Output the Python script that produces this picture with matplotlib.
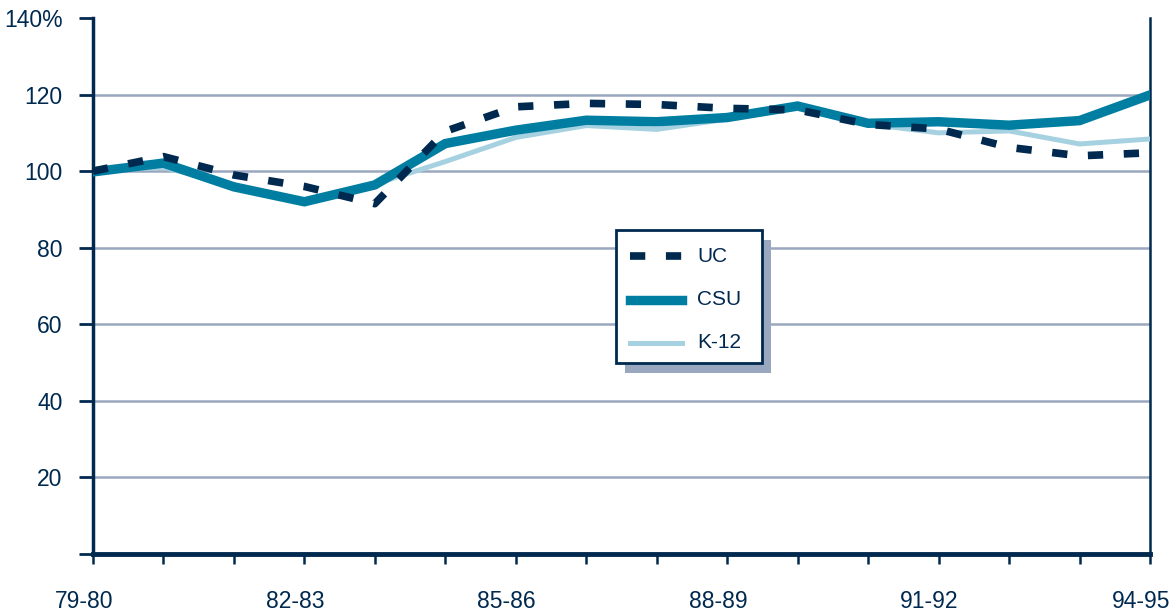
import matplotlib.pyplot as plt
from matplotlib.patches import Rectangle
from matplotlib.lines import Line2D
from matplotlib.transforms import ScaledTranslation

years = ["79-80", "80-81", "81-82", "82-83", "83-84", "84-85", "85-86", "86-87",
         "87-88", "88-89", "89-90", "90-91", "91-92", "92-93", "93-94", "94-95"]
uc = [100.0, 103.8, 99.0, 96.0, 91.5, 110.4, 116.8, 117.7,
      117.4, 116.4, 116.0, 112.2, 111.0, 106.2, 104.0, 104.8]
csu = [99.8, 102.1, 95.9, 92.0, 96.4, 107.2, 110.7, 113.3,
       112.9, 114.0, 117.0, 112.5, 112.9, 112.0, 113.2, 119.9]
k12 = [100.0, 101.0, 96.4, 92.0, 96.6, 102.5, 108.8, 111.9,
       110.9, 113.6, 117.0, 112.3, 110.0, 110.5, 107.1, 108.4]

y_ticks = [0, 20, 40, 60, 80, 100, 120, 140]
y_labels = ["", "20", "40", "60", "80", "100", "120", "140%"]

NAVY = "#00294f"
CSU_C = "#007ea1"
K12_C = "#a6d1e1"
GRID = "#9aa8bf"
UC_DASH = (2.0, 2.7)

plt.rcParams["font.family"] = ["Liberation Sans", "DejaVu Sans"]

fig = plt.figure(figsize=(11.75, 6.14), dpi=100)
ax = fig.add_axes([0.0791, 0.0977, 0.8996, 0.873])

x = list(range(len(years)))
ax.plot(x, k12, color=K12_C, lw=3.6, solid_joinstyle="miter", zorder=3)
ax.plot(x, csu, color=CSU_C, lw=6.8, solid_joinstyle="miter", zorder=4)
ax.plot(x, uc, color=NAVY, lw=5.5, dashes=UC_DASH, dash_capstyle="butt", zorder=5)

ax.set_xlim(0, len(years) - 1)
ax.set_ylim(0, 140)

for v in y_ticks[1:-1]:
    ax.axhline(v, color=GRID, lw=1.8, zorder=1)

ax.set_yticks(y_ticks)
ax.set_yticklabels(y_labels)
ax.set_xticks(x)
ax.set_xticklabels([lab if i % 3 == 0 else "" for i, lab in enumerate(years)])

ax.tick_params(axis="y", direction="out", length=10, width=2, color=NAVY,
               labelcolor=NAVY, labelsize=16.5, pad=12)
ax.tick_params(axis="x", direction="out", length=7, width=1.8, color=NAVY,
               labelcolor=NAVY, labelsize=16.5, pad=19)

# year labels sit a little left of their ticks
shift = ScaledTranslation(-9 / 100, 0, fig.dpi_scale_trans)
for lab in ax.get_xticklabels():
    lab.set_transform(lab.get_transform() + shift)

ax.spines["top"].set_visible(False)
ax.spines["left"].set_color(NAVY)
ax.spines["left"].set_linewidth(2.5)
ax.spines["right"].set_color(NAVY)
ax.spines["right"].set_linewidth(1.8)
ax.spines["bottom"].set_color(NAVY)
ax.spines["bottom"].set_linewidth(3.5)

# legend box with drop shadow
bx, by, bw, bh = 616, 230, 146, 133
shadow = Rectangle((bx + 9, 614 - by - bh - 10), bw, bh, transform=None,
                   facecolor=GRID, edgecolor="none", zorder=6)
box = Rectangle((bx, 614 - by - bh), bw, bh, transform=None,
                facecolor="white", edgecolor=NAVY, lw=2, zorder=7)
fig.patches.extend([shadow, box])

entries = [("UC", NAVY, 5.5, UC_DASH), ("CSU", CSU_C, 6.8, None), ("K-12", K12_C, 3.6, None)]
for i, (name, col, lw, dash) in enumerate(entries):
    yy = 614 - (256 + i * 43.5)
    ln = Line2D([630 / 1175, 682 / 1175], [yy / 614, yy / 614], transform=fig.transFigure,
                color=col, lw=lw, zorder=8)
    if dash:
        ln.set_dashes(dash)
        ln.set_dash_capstyle("butt")
    fig.lines.append(ln)
    fig.text(697 / 1175, yy / 614, name, color=NAVY, fontsize=15, va="center",
             ha="left", zorder=9)

fig.savefig("out.png", dpi=100)
